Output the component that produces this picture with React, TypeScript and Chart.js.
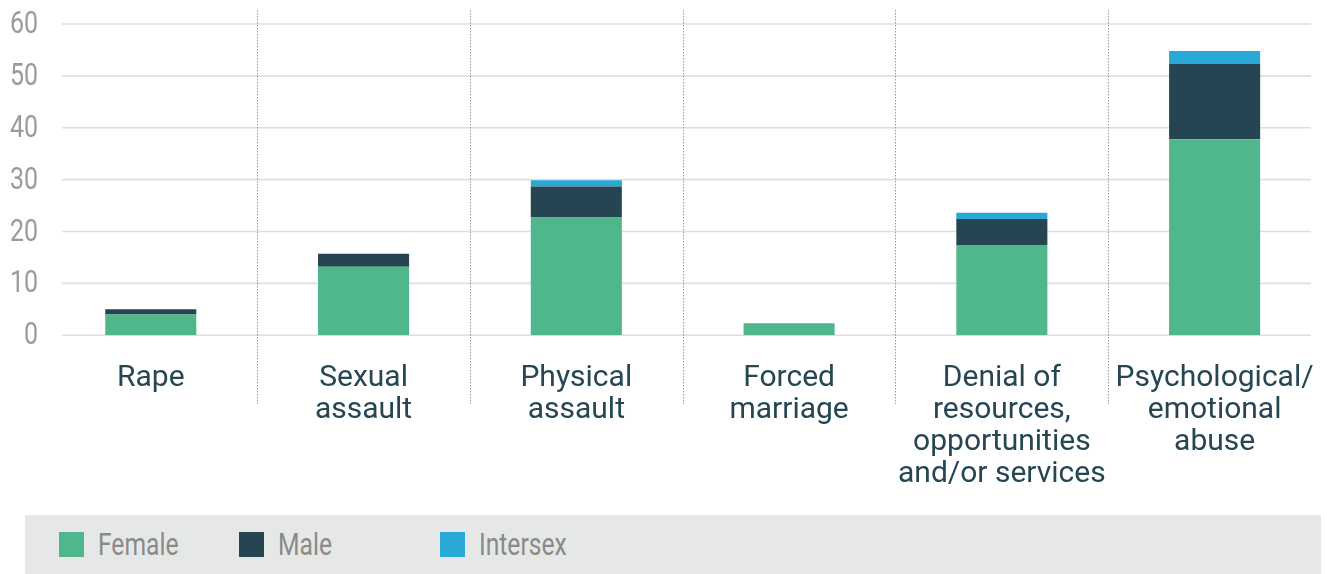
import React, { useEffect, useRef } from "react";
import { Chart, registerables } from "chart.js";

Chart.register(...registerables);

const categories: string[][] = [
  ["Rape"],
  ["Sexual", "assault"],
  ["Physical", "assault"],
  ["Forced", "marriage"],
  ["Denial of", "resources,", "opportunities", "and/or services"],
  ["Psychological/", "emotional", "abuse"],
];
const female = [4, 13.2, 22.7, 2.3, 17.4, 37.8];
const male = [1, 2.5, 6, 0, 5, 14.5];
const intersex = [0, 0, 1.2, 0, 1.2, 2.5];
const seriesNames = ["Female", "Male", "Intersex"];
const seriesColors = ["#50B78C", "#254553", "#2AA8D6"];
const yTicks = [0, 10, 20, 30, 40, 50, 60];

const COND = "Roboto, sans-serif";

const gridPlugin = {
  id: "customGrid",
  beforeDatasetsDraw(chart: any) {
    const { ctx, scales } = chart;
    const y = scales.y;
    const x = scales.x;
    ctx.save();
    ctx.strokeStyle = "#dedede";
    ctx.lineWidth = 1.6;
    yTicks.forEach((v) => {
      const py = y.getPixelForValue(v);
      ctx.beginPath();
      ctx.moveTo(62, py);
      ctx.lineTo(1311, py);
      ctx.stroke();
    });
    ctx.strokeStyle = "#9a9a9a";
    ctx.lineWidth = 1;
    ctx.setLineDash([1.5, 1.5]);
    for (let i = 0; i < categories.length - 1; i++) {
      const px = Math.round((x.getPixelForValue(i) + x.getPixelForValue(i + 1)) / 2) + 0.5;
      ctx.beginPath();
      ctx.moveTo(px, 10);
      ctx.lineTo(px, 404);
      ctx.stroke();
    }
    ctx.restore();
  },
  afterDraw(chart: any) {
    const { ctx, scales } = chart;
    const y = scales.y;
    ctx.save();
    ctx.fillStyle = "#9b9b9b";
    ctx.font = `400 32px ${COND}`;
    ctx.textAlign = "right";
    ctx.textBaseline = "middle";
    y.ticks.forEach((t: any) => {
      const py = y.getPixelForValue(t.value);
      ctx.save();
      ctx.translate(38, py + 1);
      ctx.scale(0.78, 1);
      ctx.fillText(String(t.value), 0, 0);
      ctx.restore();
    });
    ctx.restore();
  },
};

export default function App() {
  const ref = useRef<HTMLCanvasElement>(null);
  useEffect(() => {
    if (!ref.current) return;
    const chart = new Chart(ref.current, {
      type: "bar",
      data: {
        labels: categories as any,
        datasets: [female, male, intersex].map((d, i) => ({
          label: seriesNames[i],
          data: d,
          backgroundColor: seriesColors[i],
          borderWidth: 0,
          barPercentage: 0.428,
          categoryPercentage: 1,
        })),
      },
      options: {
        animation: false,
        responsive: false,
        maintainAspectRatio: false,
        layout: { padding: { top: 24, right: 6, left: 0, bottom: 0 } },
        plugins: { legend: { display: false }, tooltip: { enabled: false } },
        scales: {
          x: {
            stacked: true,
            grid: { display: false, drawTicks: false },
            border: { display: false },
            ticks: {
              color: "#264653",
              font: { family: "Roboto, sans-serif", size: 30, lineHeight: "32px" as any },
              padding: 27,
              maxRotation: 0,
              autoSkip: false,
            },
            afterFit: (s: any) => {
              s.height = 179.7;
              s.paddingLeft = 0;
              s.paddingRight = 0;
            },
          },
          y: {
            stacked: true,
            min: 0,
            max: 60,
            grid: { display: false, drawTicks: false },
            border: { display: false },
            ticks: {
              stepSize: 10,
              display: false,
            },
            afterFit: (s: any) => {
              s.width = 44.4;
              s.paddingTop = 0;
              s.paddingBottom = 0;
            },
          },
        },
      },
      plugins: [gridPlugin],
    });
    return () => chart.destroy();
  }, []);

  const legendLeft = [34, 214, 415];
  return (
    <div style={{ position: "absolute", left: 0, top: 0, width: 1327, height: 574, background: "#fff" }}>
      <canvas ref={ref} width={1327} height={515} style={{ display: "block", width: 1327, height: 515 }} />
      <div
        style={{
          position: "absolute",
          left: 25,
          top: 515,
          width: 1296,
          height: 59,
          background: "#E6E8E7",
        }}
      >
        {seriesNames.map((n, i) => (
          <div
            key={n}
            style={{
              position: "absolute",
              left: legendLeft[i],
              top: 0,
              height: 59,
              display: "flex",
              alignItems: "center",
            }}
          >
            <span
              style={{
                display: "inline-block",
                width: 25,
                height: 25,
                background: seriesColors[i],
                marginRight: 14,
              }}
            />
            <span
              style={{
                fontFamily: COND,
                fontWeight: 400,
                fontSize: 32,
                color: "#8a8a8a",
                lineHeight: "59px",
                display: "inline-block",
                transform: "scaleX(0.77)",
                transformOrigin: "left center",
                whiteSpace: "nowrap",
              }}
            >
              {n}
            </span>
          </div>
        ))}
      </div>
    </div>
  );
}
